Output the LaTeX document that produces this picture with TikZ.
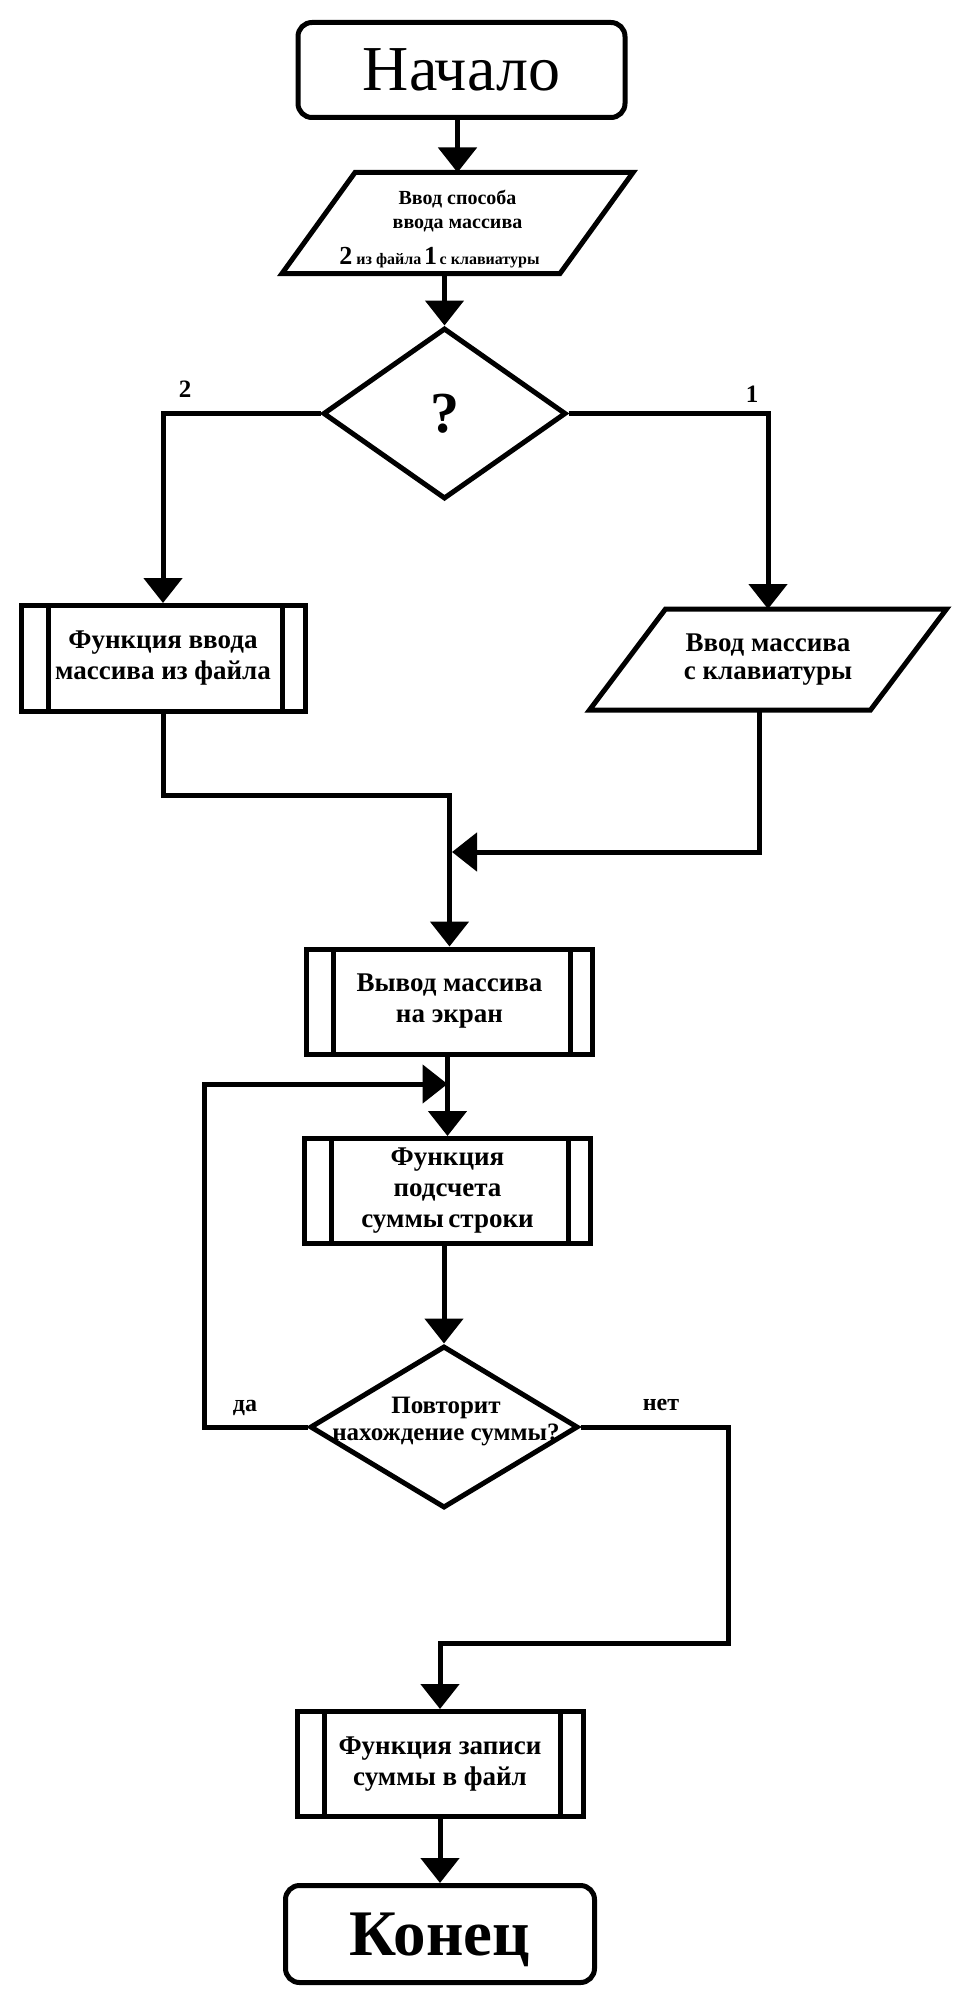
\documentclass[tikz,border=0pt]{standalone}
\usepackage{fontspec}
\setmainfont{Liberation Serif}
\usetikzlibrary{arrows.meta,shapes.geometric}

\newcommand\bignum[1]{{\fontsize{26}{26}\selectfont#1}}

\begin{document}
\begin{tikzpicture}[x=1pt,y=-1pt,line width=5pt,
    term/.style={draw,rectangle,rounded corners=14pt,inner sep=0pt},
    subr/.style={draw,rectangle,minimum width=286pt,minimum height=105pt,align=center,inner sep=0pt,
      font=\bfseries\fontsize{27}{31}\selectfont,
      path picture={
        \draw ([xshift=27pt]path picture bounding box.north west) -- ([xshift=27pt]path picture bounding box.south west);
        \draw ([xshift=-22.5pt]path picture bounding box.north east) -- ([xshift=-22.5pt]path picture bounding box.south east);}},
    io/.style={rectangle,minimum height=96pt,align=center,inner sep=0pt},
    cond/.style={draw,diamond,inner sep=0pt},
    lbl/.style={font=\bfseries\fontsize{24}{24}\selectfont},
    arr/.style={-{Triangle[width=38pt,length=25pt]}}]
  \useasboundingbox (0,0) rectangle (965,2009);

  \node[term,minimum width=327pt,minimum height=95pt,font=\fontsize{64}{64}\selectfont] (start) at (461.5,70) {Начало};
  \node[io,minimum width=273pt,font=\bfseries\fontsize{20}{24}\selectfont] (ask) at (457.5,223)
    {\rule{0pt}{26pt}Ввод способа\\ввода массива\\[12pt]
     \hspace*{-36pt}{\fontsize{16}{16}\selectfont\bignum{2} из файла\,\bignum{1}\,с клавиатуры}};
  \node[cond,minimum width=243pt,minimum height=171pt,font=\bfseries\fontsize{58}{58}\selectfont] (q1) at (444.5,413.5) {?};
  \node[lbl,font=\bfseries\fontsize{25}{25}\selectfont] (n2) at (185,389) {2};
  \node[lbl,font=\bfseries\fontsize{25}{25}\selectfont] (n1) at (752,394) {1};

  \node[subr,minimum width=284pt,minimum height=106pt] (ff) at (163,658.5) {Функция ввода\\массива из файла};
  \node[io,minimum width=276pt,font=\bfseries\fontsize{27}{28}\selectfont] (kbd) at (768,659.5) {Ввод массива\\с клавиатуры};
  \foreach \n/\s in {ask/36.5,kbd/38}
    \draw ([xshift=\s pt]\n.north west) -- ([xshift=\s pt]\n.north east)
      -- ([xshift=-\s pt]\n.south east) -- ([xshift=-\s pt]\n.south west) -- cycle;

  \node[subr] (show) at (449.5,1001.5) {Вывод массива\\на экран};
  \node[subr] (summ) at (447.5,1191) {Функция\\подсчета\\суммы\,строки};

  \node[cond,minimum width=268pt,minimum height=162pt] (q2) at (444,1427) {};
  \node[font=\bfseries\fontsize{25}{27}\selectfont,align=center] (qtext) at (446,1421) {Повторит\\нахождение суммы?};
  \node[lbl] (yes) at (245,1408) {да};
  \node[lbl] (no) at (661,1405) {нет};

  \node[subr] (save) at (440,1764) {Функция записи\\суммы в файл};
  \node[term,minimum width=309pt,minimum height=97pt,font=\bfseries\fontsize{65}{65}\selectfont,text depth=0pt] (stop) at (440,1934) {Конец};

  \coordinate (m1) at (449.5,795);
  \coordinate (m2) at (452,852);
  \coordinate (lp) at (204,1084);
  \coordinate (m3) at (447.5,1084);
  \coordinate (rp) at (728,1643);

  \draw[arr] (ask.north |- start.south) -- (ask.north);
  \draw[arr] (q1.north |- ask.south) -- (q1.north);
  \draw[arr] (q1.west) -| (ff.north);
  \draw[arr] (q1.east) -| (kbd.north);
  \draw[arr] (ff.south) |- (m1) -- (show.north);
  \draw[arr] ([xshift=-9pt]kbd.south) |- (m2);
  \draw[arr] (summ.north |- show.south) -- (summ.north);
  \draw[arr] (q2.north |- summ.south) -- (q2.north);
  \draw[arr] (q2.west) -| (lp) -- (m3);
  \draw[arr] (q2.east) -| (rp) -| (save.north);
  \draw[arr] (save.south) -- (stop.north);
\end{tikzpicture}
\end{document}
